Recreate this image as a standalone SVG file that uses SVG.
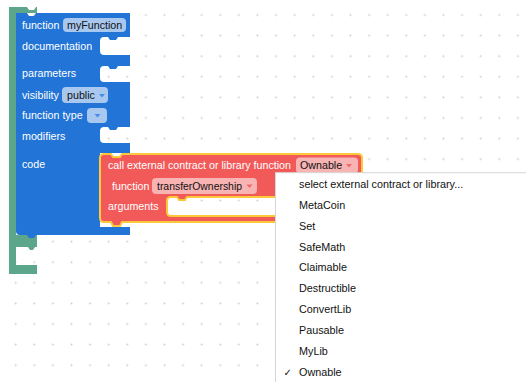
<svg xmlns="http://www.w3.org/2000/svg" width="526" height="382" viewBox="0 0 526 382">
<defs>
<pattern id="dots" patternUnits="userSpaceOnUse" x="6.4" y="4.7" width="18.6" height="20.6">
<circle cx="9.3" cy="10.3" r="1" fill="#cdcdcd"/>
</pattern>
<style>
text{font-family:"Liberation Sans",Arial,Helvetica,sans-serif;font-size:10.7px}
.w{fill:#ffffff}
.k{fill:#111111}
.pillb{fill:#a9c8f0}
.pillr{fill:#f8b3b3}
.arb{fill:#4a8ee2}
.arr{fill:#f06a6a}
.mi{fill:#111111;font-size:10.8px}
</style>
</defs>
<rect x="0" y="0" width="526" height="382" fill="#ffffff"/>
<rect x="0" y="0" width="526" height="382" fill="url(#dots)"/>
<g id="connectors"/>
<g id="contract-block">
<path d="M9,7 H27 L29,10 H34 L36,7 H37 V13 H16 V235 H37 V247 H35 L33,250 H30 L28,247 H16 V265 H37 V274 H9 Z" fill="#5ca68b"/>
</g>
<g id="function-block">
<path d="M16,13 H27 L29,16 H34 L36,13 H130 V37 H118 L116,40 H110 L108,37 H104 Q100,37 100,41 V51 Q100,55 104,55 H130 V66 H118 L116,69 H110 L108,66 H104 Q100,66 100,70 V78 Q100,82 104,82 H130 V127 H118 L116,130 H110 L108,127 H104 Q100,127 100,131 V139 Q100,143 104,143 H130 V153 H100 V227 H130 V235 H36 L34,238 H29 L27,235 H20 Q16,235 16,231 Z" fill="#2274d6"/>
<text class="w" x="22" y="29">function</text>
<rect class="pillb" x="63" y="18" width="63" height="14" rx="4"/>
<text class="k" x="67" y="29">myFunction</text>
<text class="w" x="22" y="49.5">documentation</text>
<text class="w" x="22" y="77">parameters</text>
<text class="w" x="22" y="98.5">visibility</text>
<rect class="pillb" x="62" y="87" width="46" height="16" rx="4"/>
<text class="k" x="67" y="98.5">public</text>
<path class="arb" d="M99,94 H105 L102,97.5 Z"/>
<text class="w" x="22" y="119">function type</text>
<rect class="pillb" x="87" y="108" width="20" height="15" rx="4"/>
<path class="arb" d="M94.5,114 H100.5 L97.5,117.5 Z"/>
<text class="w" x="22" y="139.5">modifiers</text>
<text class="w" x="22" y="168">code</text>
</g>
<g id="call-block">
<path d="M104,154 H111 L113,157 H120 L122,154 H358 Q362,154 362,158 V222 H122 L120,226 H113 L111,222 H104 Q100,222 100,218 V158 Q100,154 104,154 Z M171,197 H177 L179,200 H185 L187,197 H300 V216 H171 Q167,216 167,212 V201 Q167,197 171,197 Z" fill="#f25a5a" fill-rule="evenodd" stroke="#fcc93a" stroke-width="2"/>
<text class="w" x="108" y="169">call external contract or library function</text>
<rect class="pillr" x="296" y="157.5" width="62" height="16" rx="4"/>
<text class="k" x="300" y="169">Ownable</text>
<path class="arr" d="M346,164 H352 L349,167.5 Z"/>
<text class="w" x="112" y="190">function</text>
<rect class="pillr" x="152" y="178" width="105" height="16" rx="4"/>
<text class="k" x="157" y="190" textLength="85" lengthAdjust="spacingAndGlyphs">transferOwnership</text>
<path class="arr" d="M246.5,184.5 H252.5 L249.5,188 Z"/>
<text class="w" x="108" y="209.5">arguments</text>
</g>
<g id="library-menu">
<rect x="275.5" y="172.7" width="260" height="220" fill="#ffffff" stroke="#d6d6d6" stroke-width="1"/>
<text class="mi" x="299" y="188">select external contract or library...</text>
<text class="mi" x="299" y="208.9">MetaCoin</text>
<text class="mi" x="299" y="229.7">Set</text>
<text class="mi" x="299" y="250.6">SafeMath</text>
<text class="mi" x="299" y="271.4">Claimable</text>
<text class="mi" x="299" y="292.3">Destructible</text>
<text class="mi" x="299" y="313.2">ConvertLib</text>
<text class="mi" x="299" y="334">Pausable</text>
<text class="mi" x="299" y="354.9">MyLib</text>
<text style="font-family:'DejaVu Sans',sans-serif;font-size:10px" class="k" x="283.5" y="375.7">✓</text>
<text class="mi" x="299" y="375.7">Ownable</text>
</g>
</svg>
